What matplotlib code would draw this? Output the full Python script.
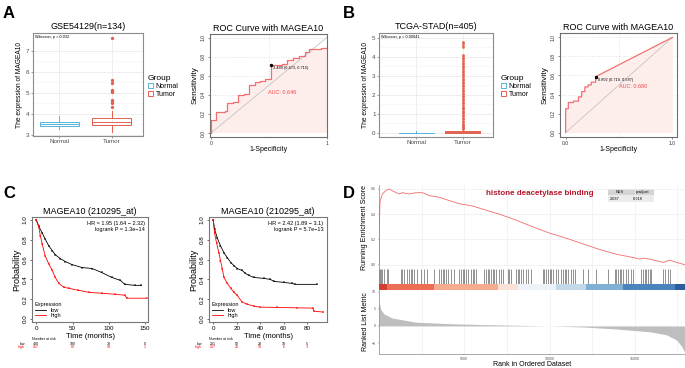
import numpy as np
import matplotlib.pyplot as plt
import matplotlib.transforms as mtransforms
from matplotlib.patches import Patch
from matplotlib.lines import Line2D

plt.rcParams['font.family'] = ['Liberation Sans', 'DejaVu Sans']

W, H = 685, 368

# ---------------- data ----------------
groups = ["Normal", "Tumor"]

# A: GSE54129 boxplot summary (q1, median, q3, whisker low, whisker high)
box_a_normal = [3.42, 3.52, 3.63, 3.30, 3.92]
box_a_tumor = [3.47, 3.62, 3.80, 3.15, 4.15]
box_a_tumor_out = [4.33, 4.52, 4.58, 4.66, 5.02, 5.08, 5.13, 5.45, 5.58, 7.58]

# B: TCGA-STAD boxplot summary
box_b_normal = [-0.01, 0.0, 0.01, -0.02, 0.08]
box_b_tumor = [0.0, 0.02, 0.07, -0.02, 0.17]
box_b_tumor_out = [0.22, 0.27, 0.31, 0.36, 0.42, 0.47, 0.55, 0.62, 0.71, 0.78, 0.86,
                   0.93, 1.02, 1.08, 1.16, 1.23, 1.31, 1.38, 1.46, 1.55, 1.62, 1.71,
                   1.79, 1.86, 1.95, 2.04, 2.12, 2.2, 2.27, 2.36, 2.44, 2.53, 2.61,
                   2.68, 2.77, 2.85, 2.94, 3.02, 3.11, 3.18, 3.27, 3.36, 3.44, 3.52,
                   3.6, 3.69, 3.77, 3.86, 3.93, 4.02, 4.1, 4.52, 4.61, 4.7, 4.8]

# ROC curves (1-specificity, sensitivity) step points
roc_a_fpr = [0, 0, 0.043, 0.12, 0.135, 0.19, 0.236, 0.285, 0.33, 0.38, 0.42, 0.47,
             0.52, 0.61, 0.66, 0.71, 0.76, 0.81, 0.85, 0.95, 1.0]
roc_a_tpr = [0, 0.136, 0.217, 0.23, 0.31, 0.33, 0.40, 0.41, 0.50, 0.53, 0.55, 0.57,
             0.71, 0.72, 0.77, 0.79, 0.81, 0.85, 0.88, 0.89, 0.91]
roc_a_best = (0.52, 0.71)
roc_b_fpr = [0, 0, 0.025, 0.072, 0.12, 0.15, 0.18, 0.21, 0.24, 0.281]
roc_b_tpr = [0, 0.25, 0.316, 0.33, 0.375, 0.43, 0.48, 0.50, 0.53, 0.587]
roc_b_best = (0.281, 0.587)

# C: Kaplan-Meier curves
km1_low_t = [0, 3, 8, 12, 17, 22, 26, 33, 40, 49, 63, 77, 90, 104, 116, 122, 136, 145]
km1_low_s = [1.0, 0.94, 0.87, 0.81, 0.74, 0.69, 0.65, 0.61, 0.58, 0.55, 0.52, 0.51,
             0.47, 0.42, 0.39, 0.35, 0.34, 0.34]
km1_high_t = [0, 3, 5.5, 8, 12, 17, 22, 26, 31, 38, 45, 58, 72, 90, 109, 122, 125, 152]
km1_high_s = [1.0, 0.94, 0.84, 0.76, 0.64, 0.56, 0.49, 0.42, 0.36, 0.32, 0.31, 0.29,
              0.27, 0.26, 0.25, 0.24, 0.21, 0.21]
km2_low_t = [0, 1.1, 3.4, 6.2, 9.1, 12, 15, 17.6, 20.4, 24.7, 27.5, 30.4, 34.6, 43,
             48.8, 51.6, 60, 67, 70, 88.5]
km2_low_s = [1.0, 0.91, 0.82, 0.74, 0.67, 0.62, 0.57, 0.54, 0.51, 0.49, 0.46, 0.44,
             0.42, 0.41, 0.40, 0.38, 0.37, 0.36, 0.35, 0.35]
km2_high_t = [0, 1.1, 2.8, 4.8, 6.2, 7.7, 9.1, 12, 15, 17.6, 20.4, 24.7, 29, 34.6, 40,
              54.5, 71.5, 85, 85.7, 93.6]
km2_high_s = [1.0, 0.87, 0.77, 0.67, 0.59, 0.51, 0.42, 0.36, 0.31, 0.27, 0.24, 0.17,
              0.15, 0.13, 0.12, 0.117, 0.113, 0.11, 0.08, 0.07]
km1_risk_t = [0, 50, 100, 150]
km1_risk_low = ["400", "180", "33", "0"]
km1_risk_high = ["407", "88", "19", "1"]
km2_risk_t = [0, 20, 40, 60, 80]
km2_risk_low = ["201", "52", "28", "10", "5"]
km2_risk_high = ["207", "29", "10", "6", "3"]

# D: GSEA
gsea_rank = [0, 20, 59, 196, 392, 588, 784, 1176, 1372, 1764, 2156, 2548, 2940, 3528,
             4116, 4704, 5488, 6076, 7056, 8036, 9016, 9996, 10976, 11956, 12936,
             13916, 14896, 15288, 15484, 15876, 16660, 17052, 17444, 17934]
gsea_es = [0.0, 0.30, 0.50, 0.56, 0.585, 0.60, 0.585, 0.56, 0.57, 0.56, 0.57, 0.57,
           0.547, 0.534, 0.508, 0.483, 0.465, 0.44, 0.40, 0.353, 0.30, 0.25, 0.21,
           0.165, 0.12, 0.083, 0.057, 0.044, 0.052, 0.044, 0.018, 0.036, 0.018, 0.0]
gsea_hits = [20, 60, 98, 196, 294, 451, 529, 1274, 1372, 1470, 1666, 1764, 1862, 1960,
             2058, 2254, 2450, 2646, 2842, 3234, 3528, 3626, 3724, 3822, 3920, 4018,
             4214, 4410, 4704, 4802, 4900, 4998, 5096, 5194, 5390, 5488, 5586, 5684,
             6174, 6272, 6370, 6468, 6566, 6664, 6762, 6860, 7056, 7154, 7252, 7546,
             7644, 7742, 8036, 8134, 8232, 8330, 8428, 8624, 8722, 8918, 9604, 9702,
             9800, 9898, 9996, 10094, 10192, 10388, 10486, 10682, 10780, 10878, 10976,
             11074, 11270, 11368, 11466, 11956, 12250, 12740, 13426, 13818, 13916,
             14014, 14112, 14210, 14308, 14504, 14602, 14798, 14896, 15386, 15484,
             15582, 15680, 15778, 15876, 15974, 16660, 16758, 16954, 17052]
metric_rank = [0, 98, 294, 784, 2156, 4116, 6076, 8036, 9996, 11956, 13916, 15876,
               16856, 17444, 17738, 17934]
metric_val = [7.3, 4.9, 3.5, 2.3, 1.1, 0.66, 0.4, 0.2, 0.0, -0.3, -0.9, -1.7, -2.6,
              -4.1, -5.9, -7.8]
band_edges = [0, 490, 3234, 6958, 8134, 10388, 12152, 14308, 17346, 17940]
band_colors = ['#D04030', '#EC6E53', '#F5AB8E', '#FCE2D6', '#EDF1F8', '#C3D8E8',
               '#7FB1D5', '#4A84BC', '#2E5E9F']

c_normal = '#58B5DA'
c_tumor = '#E4604E'


def px_rect(l, t, r, b):
    return [l / W, 1 - b / H, (r - l) / W, (b - t) / H]


fig = plt.figure(figsize=(W / 100, H / 100), dpi=100)


def box_panel(rect, title, s_n, s_t, out_t, ylim, yticks, ptext, xlim, legx, ms):
    ax = fig.add_axes(px_rect(*rect))
    stats = []
    for s, fl in ((s_n, []), (s_t, out_t)):
        stats.append(dict(q1=s[0], med=s[1], q3=s[2], whislo=s[3], whishi=s[4], fliers=fl))
    for i, (st, c) in enumerate(zip(stats, (c_normal, c_tumor))):
        ax.bxp([st], positions=[i + 1], widths=0.75, showcaps=False,
               boxprops=dict(color=c, lw=0.7), medianprops=dict(color=c, lw=0.7),
               whiskerprops=dict(color=c, lw=0.7),
               flierprops=dict(marker='o', mfc=c, mec='none', ms=ms))
    ax.set_xlim(*xlim)
    ax.set_ylim(*ylim)
    ax.set_yticks(yticks)
    ax.set_yticks([(a + b) / 2 for a, b in zip(yticks[:-1], yticks[1:])], minor=True)
    ax.set_xticks([1, 2], groups)
    ax.grid(which='major', color='#EBEBEB', lw=0.6)
    ax.grid(which='minor', axis='y', color='#F3F3F3', lw=0.4)
    ax.set_axisbelow(True)
    ax.tick_params(labelsize=4.5, length=1.5, width=0.4, colors='#4D4D4D', pad=1)
    ax.tick_params(which='minor', length=0)
    for sp in ax.spines.values():
        sp.set_color('#8C8C8C')
        sp.set_linewidth(0.8)
    ax.set_title(title, fontsize=6.5, pad=3)
    ax.set_ylabel('The expression of MAGEA10', fontsize=4.8, labelpad=2)
    ax.text(0.02, 0.985, ptext, transform=ax.transAxes, fontsize=2.8, va='top')
    handles = [Patch(fc='white', ec=c_normal, lw=0.7, label='Normal'),
               Patch(fc='white', ec=c_tumor, lw=0.7, label='Tumor')]
    fig.legend(handles=handles, title='Group', loc='upper left',
               bbox_to_anchor=(legx / W, 1 - 70 / H), frameon=False, fontsize=5,
               title_fontsize=6, handlelength=0.8, handleheight=0.7,
               handletextpad=0.3, labelspacing=0.15, alignment='left', borderpad=0.2)
    return ax


def step_corners(xs, ys):
    cx, cy = [], []
    for i in range(len(xs)):
        if i > 0:
            cx.append(xs[i])
            cy.append(ys[i - 1])
        cx.append(xs[i])
        cy.append(ys[i])
    return cx, cy


def roc_panel(rect, fpr, tpr, best, best_label, auc_label, auc_xy, xlim, ylim,
              xtl, extend_to_one):
    ax = fig.add_axes(px_rect(*rect))
    for g in [0.2, 0.4, 0.6, 0.8, 1.0]:
        ax.axhline(g, color='#C8C8C8', lw=0.5, ls=(0, (1, 2.5)), zorder=0)
    ax.axvline(0.5, color='#C8C8C8', lw=0.5, ls=(0, (1, 2.5)), zorder=0)
    cx, cy = step_corners(fpr, tpr)
    if extend_to_one:
        cx.append(1.0)
        cy.append(1.0)
    ax.fill_between(cx, cy, 0, color='#FDEEEC', lw=0, zorder=1)
    ax.plot([0, 1], [0, 1], color='#C4C4C4', lw=0.6, zorder=2)
    ax.plot(cx, cy, color='#F07070', lw=0.9, zorder=3)
    ax.plot(*best, 'o', color='black', ms=1.4, zorder=4)
    ax.text(best[0] + 0.02, best[1] - 0.03, best_label, fontsize=2.8, va='center')
    ax.text(auc_xy[0], auc_xy[1], auc_label, fontsize=4, color='#F04848')
    ax.set_xlim(*xlim)
    ax.set_ylim(*ylim)
    ax.set_xticks([0, 1], xtl)
    ax.set_yticks([0, 0.2, 0.4, 0.6, 0.8, 1.0], ['0.0', '0.2', '0.4', '0.6', '0.8', '1.0'])
    ax.tick_params(labelsize=3.6, length=1.5, width=0.4, pad=1.5, colors='#333333')
    for lab in ax.get_yticklabels():
        lab.set_rotation(90)
        lab.set_va('center')
    for sp in ax.spines.values():
        sp.set_color('#6E6E6E')
        sp.set_linewidth(0.8)
    ax.set_title('ROC Curve with MAGEA10', fontsize=6.5, pad=2.5)
    ax.set_ylabel('Sensitivity', fontsize=6, labelpad=1.5)
    ax.set_xlabel('1-Specificity', fontsize=5, labelpad=0)
    return ax


def km_panel(rect, lt, ls_, ht, hs, xticks, xlim, hr, lp, rt, rlow, rhigh):
    ax = fig.add_axes(px_rect(*rect))
    ax.plot(lt, ls_, color='black', lw=0.6, marker='+', ms=1.7, mew=0.35)
    ax.plot(ht, hs, color='red', lw=0.6, marker='+', ms=1.7, mew=0.35)
    ax.set_xlim(*xlim)
    ax.set_ylim(-0.03, 1.03)
    ax.set_xticks(xticks)
    ax.set_yticks([0, 0.2, 0.4, 0.6, 0.8, 1.0], ['0.0', '0.2', '0.4', '0.6', '0.8', '1.0'])
    ax.tick_params(labelsize=4.5, length=1.5, width=0.4, pad=1.5)
    for lab in ax.get_yticklabels():
        lab.set_rotation(90)
        lab.set_va('center')
    for sp in ax.spines.values():
        sp.set_color('#777777')
        sp.set_linewidth(0.8)
    ax.set_title('MAGEA10 (210295_at)', fontsize=6.5, pad=2.5)
    ax.set_ylabel('Probability', fontsize=6.5, labelpad=1)
    ax.set_xlabel('Time (months)', fontsize=5.5, labelpad=1)
    ax.text(0.97, 0.96, hr + '\n' + lp, transform=ax.transAxes, ha='right', va='top',
            fontsize=4, linespacing=1.3)
    handles = [Line2D([], [], color='black', lw=0.6, label='low'),
               Line2D([], [], color='red', lw=0.6, label='high')]
    ax.legend(handles=handles, title='Expression', loc='lower left', frameon=False,
              fontsize=4, title_fontsize=4, handlelength=2, labelspacing=0.1,
              borderpad=0.2, alignment='left', bbox_to_anchor=(-0.01, 0.0))
    tr = mtransforms.blended_transform_factory(ax.transData, ax.transAxes)
    ax.text(xlim[0], -0.175, 'Number at risk', transform=tr, fontsize=2.6, ha='left')
    ax.text(-0.06, -0.215, 'low', transform=ax.transAxes, fontsize=2.6, ha='right')
    ax.text(-0.06, -0.25, 'high', transform=ax.transAxes, fontsize=2.6, ha='right',
            color='red')
    for t, a, b in zip(rt, rlow, rhigh):
        ax.text(t, -0.215, a, transform=tr, fontsize=2.6, ha='center')
        ax.text(t, -0.25, b, transform=tr, fontsize=2.6, ha='center', color='red')
    return ax


# ---- A ----
box_panel((33, 33, 143, 136), 'GSE54129(n=134)', box_a_normal, box_a_tumor,
          box_a_tumor_out, (2.95, 7.83), [3, 4, 5, 6, 7], 'Wilcoxon, p = 0.032',
          (0.5, 2.6), 143, 2.4)
roc_panel((210, 34, 327, 137), roc_a_fpr, roc_a_tpr, roc_a_best,
          '3.489 (0.473, 0.715)', 'AUC: 0.646', (0.49, 0.41), (-0.008, 1.003),
          (-0.042, 1.039), ['0', '1'], False)

# ---- B ----
box_panel((379, 33, 493, 137), 'TCGA-STAD(n=405)', box_b_normal, box_b_tumor,
          box_b_tumor_out, (-0.22, 5.25), [0, 1, 2, 3, 4, 5], 'Wilcoxon, p = 0.00041',
          (0.2, 2.65), 496, 1.9)
roc_panel((560, 33, 677, 137), roc_b_fpr, roc_b_tpr, roc_b_best,
          '0.802 (0.719, 0.587)', 'AUC: 0.680', (0.5, 0.47), (-0.053, 1.044),
          (-0.047, 1.047), ['0.0', '1.0'], True)

# ---- C ----
km_panel((32, 217, 148, 322), km1_low_t, km1_low_s, km1_high_t, km1_high_s,
         [0, 50, 100, 150], (-6, 154), 'HR = 1.95 (1.64 \u2212 2.32)',
         'logrank P = 1.3e\u221214', km1_risk_t, km1_risk_low, km1_risk_high)
km_panel((209, 217, 327, 322), km2_low_t, km2_low_s, km2_high_t, km2_high_s,
         [0, 20, 40, 60, 80], (-3.6, 97), 'HR = 2.42 (1.89 \u2212 3.1)',
         'logrank P = 5.7e\u221213', km2_risk_t, km2_risk_low, km2_risk_high)

# ---- D ----
n_genes = 17940
ax_es = fig.add_axes(px_rect(379, 185, 685, 269))
ax_es.plot(gsea_rank, gsea_es, color='#F26B6B', lw=0.6)
ax_es.set_xlim(0, n_genes)
ax_es.set_ylim(-0.034, 0.631)
ax_es.set_yticks([0, 0.2, 0.4, 0.6], ['0.0', '0.2', '0.4', '0.6'])
ax_es.set_xticks(np.arange(0, n_genes, 2500))
ax_es.tick_params(labelsize=2.6, length=1, width=0.3, pad=1, labelbottom=False,
                  bottom=False, colors='#555555')
ax_es.grid(color='#EFEFEF', lw=0.5)
ax_es.set_axisbelow(True)
for k in ('top', 'right', 'bottom'):
    ax_es.spines[k].set_visible(False)
ax_es.spines['left'].set_color('#888888')
ax_es.spines['left'].set_linewidth(0.5)
ax_es.set_ylabel('Running Enrichment Score', fontsize=5, labelpad=2)
ax_es.text(0.35, 0.9, 'histone deacetylase binding', transform=ax_es.transAxes,
           fontsize=5.8, color='#B2182B', ha='left', va='center', fontweight='semibold')
tbl = ax_es.table(cellText=[['2.037', '0.018']], colLabels=['NES', 'p.adjust'],
                  bbox=[0.748, 0.8, 0.15, 0.15], cellLoc='left')
tbl.auto_set_font_size(False)
for (r, c), cell in tbl.get_celld().items():
    cell.set_fontsize(2.8)
    cell.set_linewidth(0)
    cell.set_facecolor('#D4D4D4' if r == 0 else '#EBEBEB')

ax_hit = fig.add_axes(px_rect(379, 269, 685, 284))
ax_hit.vlines(gsea_hits, 0, 1, color='black', lw=0.6, alpha=0.5)
ax_hit.set_xlim(0, n_genes)
ax_hit.set_ylim(0, 1)
ax_hit.set_xticks(np.arange(0, n_genes, 2500))
ax_hit.set_yticks([])
ax_hit.grid(axis='x', color='#EFEFEF', lw=0.5)
ax_hit.set_axisbelow(True)
ax_hit.tick_params(bottom=False, labelbottom=False)
for k in ('top', 'right', 'bottom'):
    ax_hit.spines[k].set_visible(False)
ax_hit.spines['left'].set_color('#888888')
ax_hit.spines['left'].set_linewidth(0.5)

ax_band = fig.add_axes(px_rect(379, 284, 685, 290))
for x0, x1, c in zip(band_edges[:-1], band_edges[1:], band_colors):
    ax_band.axvspan(x0, x1, color=c, lw=0)
ax_band.set_xlim(0, n_genes)
ax_band.axis('off')

ax_m = fig.add_axes(px_rect(379, 290, 685, 354))
ax_m.fill_between(metric_rank, metric_val, 0, color='#BEBEBE', lw=0)
ax_m.set_xlim(0, n_genes)
ax_m.set_ylim(-8.2, 10.5)
ax_m.set_yticks([-5, 0, 5, 10])
ax_m.set_xticks([5000, 10000, 15000])
ax_m.set_xticks(np.arange(0, n_genes, 2500), minor=True)
ax_m.grid(which='both', axis='x', color='#EFEFEF', lw=0.5)
ax_m.set_axisbelow(True)
ax_m.tick_params(labelsize=2.6, length=1, width=0.3, pad=1, colors='#555555')
ax_m.tick_params(which='minor', length=0)
for k in ('top', 'right'):
    ax_m.spines[k].set_visible(False)
for k in ('left', 'bottom'):
    ax_m.spines[k].set_color('#888888')
    ax_m.spines[k].set_linewidth(0.5)
ax_m.set_ylabel('Ranked List Metric', fontsize=5, labelpad=2)
ax_m.set_xlabel('Rank in Ordered Dataset', fontsize=5, labelpad=0.5)

# panel letters
for lab, x, y in (('A', 3, 14), ('B', 343, 14), ('C', 3, 194), ('D', 343, 194)):
    fig.text(x / W, 1 - y / H, lab, fontsize=12, fontweight='bold', va='center')

fig.savefig('out.png', dpi=100)
